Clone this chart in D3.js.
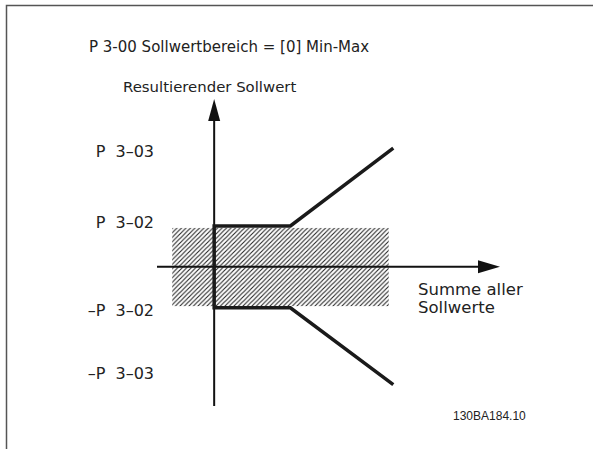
<!DOCTYPE html>
<html>
<head>
<meta charset="utf-8">
<script src="https://cdn.jsdelivr.net/npm/d3@7"></script>
<style>
  body { margin: 0; background: #fff; }
  text { fill: #222; }
</style>
</head>
<body>
<div id="chart"></div>
<script>
const width = 593
const height = 449

// conceptual units: x = summe aller sollwerte, y = resultierender sollwert
const yTickLabels = ["P  3\u201303", "P  3\u201302", "\u2013P  3\u201302", "\u2013P  3\u201303"]
const yTickValues = [2.83, 1.1, -1.07, -2.61]
const upperLine = [[2.35, 2.9], [1, 1], [0, 1], [0, -1], [1, -1], [2.35, -2.88]]
const hatchX = [-0.55, 2.29]
const hatchY = [-0.96, 0.95]
const xDomain = [-0.75, 3.75]
const yDomain = [-3.4, 4.1]

const x = d3.scaleLinear().domain(xDomain).range([157, 500])
const y = d3.scaleLinear().domain(yDomain).range([406, 99])

const svg = d3.select("#chart").append("svg")
  .attr("width", width)
  .attr("height", height)

// hatch pattern
const defs = svg.append("defs")
const pat = defs.append("pattern")
  .attr("id", "hatch")
  .attr("patternUnits", "userSpaceOnUse")
  .attr("width", 4.5)
  .attr("height", 4.5)
pat.append("path")
  .attr("d", "M-1,1 l2,-2 M0,4.5 l4.5,-4.5 M3.5,5.5 l2,-2")
  .attr("stroke", "#222")
  .attr("stroke-width", 1.1)

// frame
svg.append("path")
  .attr("d", "M6.5," + height + " V5.5 H" + width)
  .attr("fill", "none")
  .attr("stroke", "#555")
  .attr("stroke-width", 1.5)

svg.append("text")
  .attr("x", 89).attr("y", 52)
  .style("font-family", "DejaVu Sans")
  .style("font-size", "15px")
  .text("P 3-00 Sollwertbereich = [0] Min-Max")

svg.append("text")
  .attr("x", 123).attr("y", 92)
  .style("font-family", "DejaVu Sans")
  .style("font-size", "14.9px")
  .text("Resultierender Sollwert")

// hatched band
svg.append("rect")
  .attr("x", x(hatchX[0]))
  .attr("y", y(hatchY[1]))
  .attr("width", x(hatchX[1]) - x(hatchX[0]))
  .attr("height", y(hatchY[0]) - y(hatchY[1]))
  .attr("fill", "url(#hatch)")

// axes
const x0 = x(0), y0 = y(0)
svg.append("line")
  .attr("x1", x0).attr("x2", x0)
  .attr("y1", y(yDomain[0])).attr("y2", y(yDomain[1]) + 10)
  .attr("stroke", "#111").attr("stroke-width", 2)
svg.append("path")
  .attr("d", `M${x0},${y(yDomain[1])} L${x0 - 6},${y(yDomain[1]) + 22} L${x0 + 6},${y(yDomain[1]) + 22} Z`)
  .attr("fill", "#111")

svg.append("line")
  .attr("x1", x(xDomain[0])).attr("x2", x(xDomain[1]) - 10)
  .attr("y1", y0).attr("y2", y0)
  .attr("stroke", "#111").attr("stroke-width", 2)
svg.append("path")
  .attr("d", `M${x(xDomain[1])},${y0} L${x(xDomain[1]) - 22},${y0 - 6.5} L${x(xDomain[1]) - 22},${y0 + 6.5} Z`)
  .attr("fill", "#111")

// y tick labels
svg.append("g")
  .selectAll("text")
  .data(yTickValues)
  .join("text")
  .attr("x", 154)
  .attr("y", d => y(d))
  .attr("dy", "0.36em")
  .attr("text-anchor", "end")
  .style("white-space", "pre")
  .style("font-family", "DejaVu Sans")
  .style("font-size", "16px")
  .style("font-weight", 500)
  .text((d, i) => yTickLabels[i])

// characteristic line
svg.append("path")
  .datum(upperLine)
  .attr("d", d3.line().x(d => x(d[0])).y(d => y(d[1])))
  .attr("fill", "none")
  .attr("stroke", "#1a1a1a")
  .attr("stroke-width", 3.5)

svg.append("text")
  .attr("x", 418).attr("y", 295)
  .style("font-family", "DejaVu Sans")
  .style("font-size", "16.5px")
  .text("Summe aller")
svg.append("text")
  .attr("x", 418).attr("y", 313)
  .style("font-family", "DejaVu Sans")
  .style("font-size", "16.5px")
  .text("Sollwerte")

svg.append("text")
  .attr("x", 453).attr("y", 420)
  .style("font-family", "Liberation Sans")
  .style("font-size", "12px")
  .text("130BA184.10")
</script>
</body>
</html>
